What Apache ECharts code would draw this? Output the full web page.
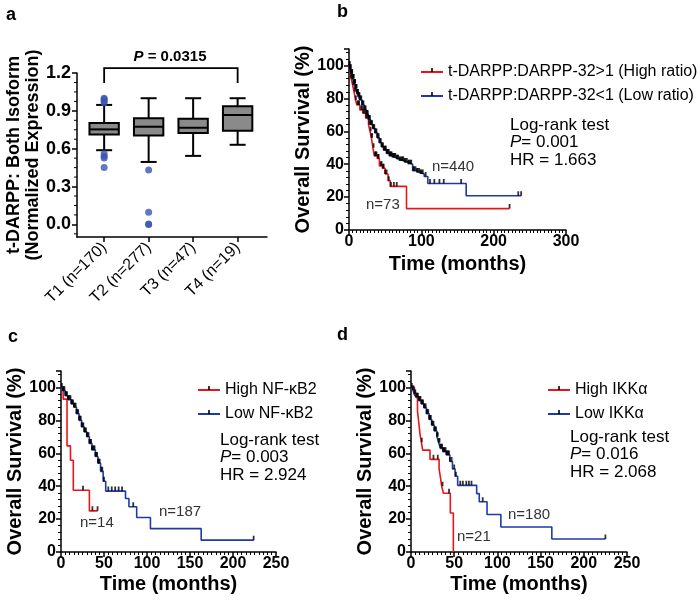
<!DOCTYPE html>
<html><head><meta charset="utf-8">
<script src="https://cdn.jsdelivr.net/npm/echarts@6/dist/echarts.min.js"></script>
<style>html,body{margin:0;padding:0;background:#fff}#c{width:700px;height:603px}</style>
</head><body><div id="c"></div>
<script>
const FONT = '"Liberation Sans", Arial, Helvetica, sans-serif';
const RED = '#e8161b', BLUE = '#1f3aa8', OUTLIER = '#3b55b3';

// ---------- Panel a: box plot ----------
const categories = ['T1 (n=170)', 'T2 (n=277)', 'T3 (n=47)', 'T4 (n=19)'];
const boxMin    = [0.588, 0.495, 0.543, 0.631];
const boxQ1     = [0.713, 0.705, 0.724, 0.742];
const boxMedian = [0.753, 0.774, 0.766, 0.867];
const boxQ3     = [0.804, 0.841, 0.838, 0.937];
const boxMax    = [0.947, 1.000, 1.000, 1.000];
const outliers  = [[0,1.0],[0,0.99],[0,0.978],[0,0.965],[0,0.56],[0,0.54],[0,0.527],[0,0.45],
                   [1,0.431],[1,0.096],[1,0.0],[1,0.004]];
const aYTicks = [0, 0.3, 0.6, 0.9, 1.2];
const aYMinorTicks = [-0.075, 0.075, 0.15, 0.225, 0.375, 0.45, 0.525, 0.675, 0.75, 0.825, 0.975, 1.05, 1.125];
const aXMin = -0.61, aXMax = 3.66;
const bracketFrom = 0, bracketTo = 3, bracketTop = 1.239, bracketFoot = 1.12;

// ---------- Panel b: t-DARPP:DARPP-32 ratio ----------
const bHighName = 't-DARPP:DARPP-32>1 (High ratio)';
const bLowName  = 't-DARPP:DARPP-32<1 (Low ratio)';
const bHigh = [[0,100],[1.5,96],[3,92],[5,88],[7,84],[9,79],[11,76],[15,73],[19,71],[23,68],[27,64],[29,60],
               [31,56],[33,50],[35,45],[39,43.5],[42,39],[46,37.5],[50,34],[54,30],[57,26.5],[79.5,13]];
const bHighEnd = 222;
const bHighCens = [1,2,3,4.5,6,8,9.5,12,13,14,17,18,20,22,24,26,28,30,31,32,34,36,37,38,40,41,44,45,47,48,
                   50,52,55,58,62,66,222];
const bLow = [[0,100],[1,98],[3,95],[5,92],[7,89],[9,86],[11,83],[13,81],[15,79],[18,76],[21,73],[24,70],
              [27,67],[30,64],[33,61.5],[36,59],[39,56],[42,53],[45,50.5],[48,48.5],[52,46.5],[56,45],
              [60,44],[65,43],[70,42],[76,41],[82,40],[88,36],[93,35],[98,34],[104,32.5],[109,28.3],[162,20.8]];
const bLowEnd = 238;
const bLowCens = [0.5,1,1.5,2,2.5,3,3.5,4,4.5,5,5.5,6,6.5,7,7.5,8,8.5,9,9.5,10,10.5,11,11.5,12,12.5,13,13.5,
                  14,14.5,15,16,17,18,19,20,21,22,23,24,25,26,27,28,29,30,31,32,33,34,35,36,37,38,39,40,
                  41,42,43,44,45,46,47,48,49,50,51,52,53,54,55,56,57,58,59,60,61,62,63,64,66,67,68,70,71,
                  73,74,75,77,78,80,82,83,85,86,89,90,92,94,95,97,99,100,102,106,112,118,125,131,155,234,238];

// ---------- Panel c: NF-kB2 ----------
const cHighName = 'High NF-\u03baB2';
const cLowName  = 'Low NF-\u03baB2';
const cHigh = [[0,100],[2.5,92.9],[7,64.5],[11,55.8],[14.3,37.5],[33,25]];
const cHighEnd = 42.5;
const cHighCens = [25.6, 36.5, 42.5];
const cLow = [[0,100],[2,98],[5,95],[8,92.5],[12,90],[15,88],[18,84],[21,80],[24,76],[27,73],[30,70],[33,66],
              [36,62],[40,58],[43,54],[46,49],[49,43],[52,37],[75,32.5],[79,27.5],[88,21],[104,14.2],[163,7.2]];
const cLowEnd = 224;
const cLowCens = [1,2,3,4,5,6,7,8,9,10,11,12,13,14,15,16,17,18,19,20,21,22,23,24,25,26,27,28,29,30,31,32,
                  33,34,35,36,37,38,39,40,41,42,43,44,45,47,48,50,55,59,63,67,71,84,224];

// ---------- Panel d: IKKalpha ----------
const dHighName = 'High IKK\u03b1';
const dLowName  = 'Low IKK\u03b1';
const dHigh = [[0,100],[4,95.2],[7.5,85.7],[8.5,81],[9.5,76.2],[10.5,71.4],[12,66.7],[13.5,61.9],[22,56.3],
               [32.5,50.5],[34,45.5],[35.5,40],[37.5,35.7],[45.5,23.7],[49,0]];
const dHighEnd = 49;
const dHighCens = [12.5, 26, 31, 36.5, 44];
const dLow = [[0,100],[2,98.5],[4,96],[6,94],[9,92],[12,90],[15,87.5],[18,84],[21,80.5],[24,77],[27,73.5],
              [30,70],[32,66.5],[34,63],[37,61],[41,59],[45,55],[48,50.5],[51,46],[54,40.5],[76,35.5],
              [79,30.5],[88,22.8],[104,15.2],[163,7.9]];
const dLowEnd = 225;
const dLowCens = [1,2,3,4,5,6,7,8,9,10,11,12,13,14,15,16,17,18,19,20,21,22,23,24,25,26,27,28,29,30,31,32,
                  33,34,35,36,37,38,39,40,41,42,43,44,45,47,50,52,57,60,64,67,70,83,225];

// ---------- helpers ----------
const TICK = 'path://M0,0L0.01,0L0,0.01Z M4,0L6,0L6,5L4,5Z M10,10L9.99,10L10,9.99Z';
function survAt(pts, t) { let s = pts[0][1]; for (const p of pts) { if (p[0] <= t) s = p[1]; } return s; }
function kmLine(name, pts, end, color, gi) {
  return { type: 'line', name, xAxisIndex: gi, yAxisIndex: gi, step: 'end', showSymbol: false,
    symbol: TICK, symbolSize: 9, data: pts.concat([[end, pts[pts.length - 1][1]]]),
    lineStyle: { color, width: 1.6 }, itemStyle: { color: '#000' }, silent: true, animation: false, z: 2 };
}
function kmCens(pts, cens, gi) {
  return { type: 'scatter', xAxisIndex: gi, yAxisIndex: gi, symbol: TICK, symbolSize: 9,
    itemStyle: { color: '#000' }, silent: true, z: 3, data: cens.map(t => [t, survAt(pts, t)]) };
}
const tickLabel = { fontFamily: FONT, fontWeight: 'bold', fontSize: 16, color: '#000' };
const axLine = { onZero: false, lineStyle: { color: '#000', width: 1.5 } };
function kmX(gi, max, interval, split, gap) {
  return { type: 'value', gridIndex: gi, min: 0, max, interval, name: 'Time (months)', nameLocation: 'middle',
    nameGap: gap, nameTextStyle: { fontFamily: FONT, fontWeight: 'bold', fontSize: 20, color: '#000' },
    axisLine: axLine, axisTick: { length: 5, lineStyle: { color: '#000', width: 1.5 } },
    minorTick: { show: true, splitNumber: split, length: 3, lineStyle: { color: '#000', width: 1 } },
    axisLabel: Object.assign({ margin: 4 }, tickLabel), splitLine: { show: false } };
}
function kmY(gi, gap) {
  return { type: 'value', gridIndex: gi, min: 0, max: 110, interval: 20, name: 'Overall Survival (%)',
    nameLocation: 'middle', nameRotate: 90, nameGap: gap,
    nameTextStyle: { fontFamily: FONT, fontWeight: 'bold', fontSize: 20, color: '#000' },
    axisLine: axLine, axisTick: { length: 5, lineStyle: { color: '#000', width: 1.5 } },
    minorTick: { show: true, splitNumber: 5, length: 3, lineStyle: { color: '#000', width: 1 } },
    axisLabel: Object.assign({ margin: 5, showMaxLabel: false }, tickLabel), splitLine: { show: false } };
}
function statText(x, y, p, hr) {
  const base = { fontFamily: FONT, fontSize: 17, fill: '#000', verticalAlign: 'middle', align: 'left' };
  return [
    { type: 'text', x, y, style: Object.assign({ text: 'Log-rank test' }, base) },
    { type: 'text', x, y: y + 17.5, style: Object.assign({ text: '{i|P}= ' + p,
        rich: { i: { fontStyle: 'italic', fontFamily: FONT, fontSize: 17 } } }, base) },
    { type: 'text', x, y: y + 35, style: Object.assign({ text: 'HR = ' + hr }, base) }
  ];
}
function nText(x, y, t) {
  return { type: 'text', x, y, style: { text: t, fontFamily: FONT, fontSize: 15, fill: '#333', verticalAlign: 'middle' } };
}
function letter(x, y, t) {
  return { type: 'text', x, y, style: { text: t, fontFamily: FONT, fontSize: 18, fontWeight: 'bold', fill: '#000', verticalAlign: 'middle' } };
}
function legend(left, top, names) {
  return { data: names, orient: 'vertical', left, top, itemWidth: 22, itemHeight: 10, itemGap: 6,
    selectedMode: false, textStyle: { fontFamily: FONT, fontSize: 16, color: '#000', lineHeight: 18 } };
}

const boxData = categories.map((c, i) => [i, boxMin[i], boxQ1[i], boxMedian[i], boxQ3[i], boxMax[i]]);

const chart = echarts.init(document.getElementById('c'), null, { renderer: 'canvas' });
chart.setOption({
  animation: false,
  backgroundColor: '#fff',
  grid: [
    { left: 77, top: 73, width: 190, height: 164 },
    { left: 349, top: 49, width: 217, height: 181 },
    { left: 61, top: 371, width: 215, height: 181 },
    { left: 411, top: 371, width: 216, height: 181 }
  ],
  xAxis: [
    { type: 'value', gridIndex: 0, min: aXMin, max: aXMax, axisLine: axLine,
      axisTick: { customValues: [0, 1, 2, 3], length: 5, lineStyle: { color: '#000', width: 1.5 } },
      axisLabel: { customValues: [0, 1, 2, 3], rotate: 45, margin: 8, fontFamily: FONT, fontSize: 16, color: '#000',
        formatter: v => categories[Math.round(v)] },
      splitLine: { show: false } },
    kmX(1, 300, 100, 20, 24),
    kmX(2, 250, 50, 10, 22),
    kmX(3, 250, 50, 10, 22)
  ],
  yAxis: [
    { type: 'value', gridIndex: 0, min: -0.1, max: 1.2, position: 'left', axisLine: axLine,
      name: 't-DARPP: Both Isoform\n(Normalized Expression)', nameLocation: 'middle', nameRotate: 90, nameGap: 29,
      nameTextStyle: { fontFamily: FONT, fontWeight: 'bold', fontSize: 18, color: '#000', lineHeight: 19 },
      axisTick: { customValues: aYTicks, length: 5, lineStyle: { color: '#000', width: 1.5 } },
      axisLabel: { customValues: aYTicks, formatter: v => v.toFixed(1), margin: 6, fontFamily: FONT, fontWeight: 'bold', fontSize: 18, color: '#000' },
      splitLine: { show: false } },
    kmY(1, 32),
    kmY(2, 36),
    kmY(3, 36)
  ],
  legend: [
    legend(415, 58, [bHighName, bLowName]),
    legend(192, 376, [cHighName, cLowName]),
    legend(542, 376, [dHighName, dLowName])
  ],
  series: [
    { type: 'custom', xAxisIndex: 0, yAxisIndex: 0, data: boxData, encode: { x: 0, y: [1, 2, 3, 4, 5] }, silent: true,
      renderItem(params, api) {
        const i = api.value(0);
        const lo = api.coord([i, api.value(1)]), q1 = api.coord([i, api.value(2)]), md = api.coord([i, api.value(3)]);
        const q3 = api.coord([i, api.value(4)]), hi = api.coord([i, api.value(5)]);
        const bl = api.coord([i - 0.33, 0])[0], br = api.coord([i + 0.33, 0])[0];
        const cl = api.coord([i - 0.18, 0])[0], cr = api.coord([i + 0.18, 0])[0];
        const st = { stroke: '#000', lineWidth: 2 };
        return { type: 'group', children: [
          { type: 'line', shape: { x1: lo[0], y1: lo[1], x2: q1[0], y2: q1[1] }, style: st },
          { type: 'line', shape: { x1: q3[0], y1: q3[1], x2: hi[0], y2: hi[1] }, style: st },
          { type: 'line', shape: { x1: cl, y1: lo[1], x2: cr, y2: lo[1] }, style: st },
          { type: 'line', shape: { x1: cl, y1: hi[1], x2: cr, y2: hi[1] }, style: st },
          { type: 'rect', shape: { x: bl, y: q3[1], width: br - bl, height: q1[1] - q3[1] }, style: { fill: '#8a8a8a', stroke: '#000', lineWidth: 2 } },
          { type: 'line', shape: { x1: bl, y1: md[1], x2: br, y2: md[1] }, style: st }
        ] };
      } },
    { type: 'scatter', xAxisIndex: 0, yAxisIndex: 0, data: outliers, symbolSize: 7, itemStyle: { color: OUTLIER }, silent: true, z: 4 },
    { type: 'custom', xAxisIndex: 0, yAxisIndex: 0, clip: false, silent: true,
      data: [[bracketFrom, bracketTo, bracketTop, bracketFoot]],
      renderItem(params, api) {
        const a1 = api.coord([api.value(0), api.value(3)]), a2 = api.coord([api.value(0), api.value(2)]);
        const b2 = api.coord([api.value(1), api.value(2)]), b1 = api.coord([api.value(1), api.value(3)]);
        return { type: 'polyline', shape: { points: [a1, a2, b2, b1] }, style: { stroke: '#000', lineWidth: 1.8, fill: null } };
      } },
    // minor ticks of panel a's y axis, placed through the axis scale
    { type: 'custom', xAxisIndex: 0, yAxisIndex: 0, clip: false, silent: true,
      data: aYMinorTicks.map(v => [aXMin, v]),
      renderItem(params, api) {
        const p = api.coord([api.value(0), api.value(1)]);
        return { type: 'line', shape: { x1: p[0] - 3, y1: p[1], x2: p[0], y2: p[1] }, style: { stroke: '#000', lineWidth: 1 } };
      } },
    kmLine(bHighName, bHigh, bHighEnd, RED, 1), kmLine(bLowName, bLow, bLowEnd, BLUE, 1),
    kmCens(bHigh, bHighCens, 1), kmCens(bLow, bLowCens, 1),
    kmLine(cHighName, cHigh, cHighEnd, RED, 2), kmLine(cLowName, cLow, cLowEnd, BLUE, 2),
    kmCens(cHigh, cHighCens, 2), kmCens(cLow, cLowCens, 2),
    kmLine(dHighName, dHigh, dHighEnd, RED, 3), kmLine(dLowName, dLow, dLowEnd, BLUE, 3),
    kmCens(dHigh, dHighCens, 3), kmCens(dLow, dLowCens, 3)
  ],
  graphic: [
    letter(6, 15, 'a'), letter(337, 12, 'b'), letter(8, 337, 'c'), letter(337, 335, 'd'),
    { type: 'text', x: 170, y: 57, style: { text: '{i|P} = 0.0315', fontFamily: FONT, fontSize: 15, fontWeight: 'bold',
        fill: '#000', align: 'center', verticalAlign: 'middle',
        rich: { i: { fontStyle: 'italic', fontWeight: 'bold', fontFamily: FONT, fontSize: 15 } } } },
    ...statText(510, 125, '0.001', '1.663'),
    ...statText(220, 440, '0.003', '2.924'),
    ...statText(570, 437, '0.016', '2.068'),
    nText(432, 167, 'n=440'), nText(366, 205, 'n=73'),
    nText(159, 512, 'n=187'), nText(80, 523, 'n=14'),
    nText(508, 515, 'n=180'), nText(457, 537, 'n=21')
  ]
});
</script></body></html>
